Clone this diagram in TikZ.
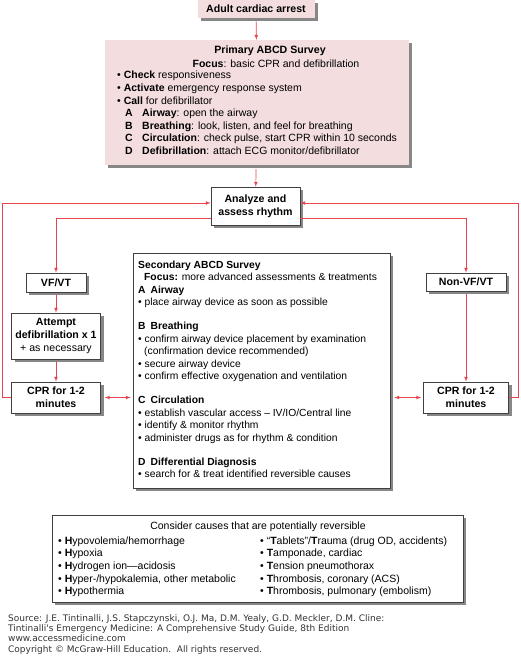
\documentclass[tikz,border=0pt]{standalone}
\usepackage{fontspec}
\setmainfont{Liberation Sans}
\newfontfamily\sourcefont{DejaVu Sans}
\usetikzlibrary{arrows, shadows}
\definecolor{survpink}{RGB}{243,221,223}
\definecolor{flowred}{RGB}{232,68,78}
\definecolor{shadegray}{RGB}{135,135,135}
\tikzstyle{pinkbox} = [rectangle, inner sep=0pt, fill=survpink, drop shadow={shadow xshift=3pt, shadow yshift=-3pt, fill=shadegray, opacity=1}]
\tikzstyle{whitebox} = [rectangle, inner sep=0pt, draw=black!75, line width=0.6pt, fill=white, align=center, drop shadow={shadow xshift=3pt, shadow yshift=-3pt, fill=shadegray, opacity=1}]
\tikzstyle{boxtext} = [inner sep=0pt, align=left, anchor=north west, font=\fontsize{10.5}{12.6}\selectfont]
\tikzstyle{labeltext} = [font=\fontsize{10.6}{13}\selectfont\bfseries]
\tikzstyle{arrow} = [flowred, line width=0.7pt, ->, >=latex]

\begin{document}
\begin{tikzpicture}[x=1pt, y=-1pt, font=\fontsize{10.5}{12.8}\selectfont]
    \useasboundingbox (0,0) rectangle (520,656);

    % top of the chart
    \node [pinkbox, labeltext, minimum width=117pt, minimum height=18pt] at (256,9) (start) {Adult cardiac arrest};
    \node [pinkbox, minimum width=304pt, minimum height=125pt] at (257,102.5) (primary) {};
    \node [labeltext] at (270,51) (primtitle) {Primary ABCD Survey};
    \node at (276,63.5) (primfocus) {\textbf{Focus}: basic CPR and defibrillation};
    \node [boxtext] at (117,71) (primlist) {%
        • \textbf{Check} responsiveness\\
        • \textbf{Activate} emergency response system\\
        • \textbf{Call} for defibrillator\\
        \hspace*{8pt}\makebox[17pt][l]{\textbf{A}}\textbf{Airway}: open the airway\\
        \hspace*{8pt}\makebox[17pt][l]{\textbf{B}}\textbf{Breathing}: look, listen, and feel for breathing\\
        \hspace*{8pt}\makebox[17pt][l]{\textbf{C}}\textbf{Circulation}: check pulse, start CPR within 10 seconds\\
        \hspace*{8pt}\makebox[17pt][l]{\textbf{D}}\textbf{Defibrillation}: attach ECG monitor/defibrillator};
    \node [whitebox, labeltext, minimum width=89pt, minimum height=38pt] at (255.5,206) (analyze) {Analyze and\\assess rhythm};

    % VF/VT side
    \node [whitebox, labeltext, minimum width=60pt, minimum height=19pt] at (56,282.5) (vfvt) {VF/VT};
    \node [whitebox, minimum width=89pt, minimum height=46pt, font=\fontsize{10.6}{13}\selectfont] at (56,336) (attempt) {\textbf{Attempt}\\\textbf{defibrillation x 1}\\+ as necessary};
    \node [whitebox, labeltext, minimum width=89pt, minimum height=31pt] at (56,397.5) (cprl) {CPR for 1-2\\minutes};

    % Non-VF/VT side
    \node [whitebox, labeltext, minimum width=80pt, minimum height=18pt] at (466,282) (nonvf) {Non-VF/VT};
    \node [whitebox, labeltext, minimum width=85pt, minimum height=31pt] at (466,397.5) (cprr) {CPR for 1-2\\minutes};

    % secondary survey
    \node [whitebox, minimum width=257pt, minimum height=235pt] at (261.5,370.5) (secondary) {};
    \node [boxtext, font=\fontsize{10.3}{12.5}\selectfont] at (138,260.5) (seclist) {%
        \textbf{Secondary ABCD Survey}\\
        \hspace*{6pt}\textbf{Focus:} more advanced assessments \& treatments\\
        \textbf{A\hspace{5pt}Airway}\\
        • place airway device as soon as possible\\[11.5pt]
        \textbf{B\hspace{5pt}Breathing}\\
        • confirm airway device placement by examination\\
        \hspace*{6pt}(confirmation device recommended)\\
        • secure airway device\\
        • confirm effective oxygenation and ventilation\\[11.5pt]
        \textbf{C\hspace{5pt}Circulation}\\
        • establish vascular access – IV/IO/Central line\\
        • identify \& monitor rhythm\\
        • administer drugs as for rhythm \& condition\\[11.5pt]
        \textbf{D\hspace{5pt}Differential Diagnosis}\\
        • search for \& treat identified reversible causes};

    % reversible causes
    \node [whitebox, minimum width=411pt, minimum height=87pt] at (257.5,558.5) (causes) {};
    \node at (258,526.5) (causetitle) {Consider causes that are potentially reversible};
    \node [boxtext] at (58,536.5) (hlist) {%
        • \textbf{H}ypovolemia/hemorrhage\\
        • \textbf{H}ypoxia\\
        • \textbf{H}ydrogen ion—acidosis\\
        • \textbf{H}yper-/hypokalemia, other metabolic\\
        • \textbf{H}ypothermia};
    \node [boxtext] at (260,536.5) (tlist) {%
        • “\textbf{T}ablets”/\textbf{T}rauma (drug OD, accidents)\\
        • \textbf{T}amponade, cardiac\\
        • \textbf{T}ension pneumothorax\\
        • \textbf{T}hrombosis, coronary (ACS)\\
        • \textbf{T}hrombosis, pulmonary (embolism)};

    % source lines
    \node [inner sep=0pt, align=left, anchor=north west, font=\sourcefont\fontsize{9}{10.4}\selectfont, text=black!80] at (8,614) (source) {%
        Source: J.E. Tintinalli, J.S. Stapczynski, O.J. Ma, D.M. Yealy, G.D. Meckler, D.M. Cline:\\
        Tintinalli's Emergency Medicine: A Comprehensive Study Guide, 8th Edition\\
        www.accessmedicine.com\\
        Copyright © McGraw-Hill Education.\ \ All rights reserved.};

    \coordinate (leftrail) at (2,203);
    \coordinate (rightrail) at (518,203);

    \draw [arrow, shorten <=3pt] (start) -- (primary);
    \draw [arrow, shorten <=4pt] (primary) -- (analyze);
    \draw [arrow] ([yshift=-12pt]analyze.west) -| (vfvt.north);
    \draw [arrow] ([yshift=-12pt]analyze.east) -| (nonvf.north);
    \draw [arrow, shorten <=3pt] (vfvt) -- (attempt);
    \draw [arrow, shorten <=3pt] (attempt) -- (cprl);
    \draw [arrow, shorten <=3pt] (nonvf) -- (cprr);
    \draw [arrow] (cprl.west) -| (leftrail) -- ([yshift=3pt]analyze.west);
    \draw [arrow] (cprr.east) -| (rightrail) -- ([yshift=3pt]analyze.east);
    \draw [arrow, <->, shorten <=4pt, shorten >=2pt] (cprl.east) -- (cprl.east -| secondary.west);
    \draw [arrow, <->, shorten <=4pt, shorten >=2pt] (cprr.west -| secondary.east) -- (cprr.west);
\end{tikzpicture}
\end{document}
